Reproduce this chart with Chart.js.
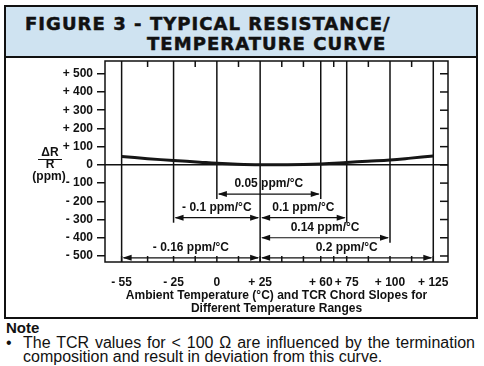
<!DOCTYPE html>
<html>
<head>
<meta charset="utf-8">
<script src="https://cdn.jsdelivr.net/npm/chart.js@4/dist/chart.umd.min.js"></script>
<style>
  html, body { margin: 0; padding: 0; background: #fff; }
  #page { position: relative; width: 484px; height: 366px; overflow: hidden; font-family: 'Liberation Sans', Arial, sans-serif; color: #111; }
  #box { position: absolute; left: 4px; top: 5px; width: 474px; height: 314px; border: 2px solid #111; box-sizing: border-box; }
  #band { position: absolute; left: 6px; top: 7px; width: 470px; height: 49px; background: #cfe3f1; border-bottom: 2px solid #111; }
  .ttl { position: absolute; font-family: 'DejaVu Sans', sans-serif; font-weight: bold; font-size: 18px; line-height: 20px; letter-spacing: 1.05px; white-space: nowrap; -webkit-text-stroke: 0.5px #111; }
  #t1 { left: 25px; top: 14px; }
  #t2 { left: 147px; top: 34px; }
  #chart { position: absolute; left: 0; top: 0; }
  #noteHead { position: absolute; left: 6px; top: 320px; font-weight: bold; font-size: 15px; line-height: 15px; }
  .note { position: absolute; font-size: 16px; line-height: 14px; white-space: nowrap; }
  #bullet { left: 6px; top: 336px; }
  #l1 { left: 23px; top: 336px; width: 452px; text-align: justify; text-align-last: justify; white-space: normal; }
  #l2 { left: 23px; top: 350px; }
</style>
</head>
<body>
<div id="page">
  <div id="box"></div>
  <div id="band"></div>
  <div class="ttl" id="t1">FIGURE 3 - TYPICAL RESISTANCE/</div>
  <div class="ttl" id="t2">TEMPERATURE CURVE</div>
  <div id="noteHead">Note</div>
  <div class="note" id="bullet">•</div>
  <div class="note" id="l1">The TCR values for &lt; 100 Ω are influenced by the termination</div>
  <div class="note" id="l2">composition and result in deviation from this curve.</div>
  <canvas id="chart" width="484" height="366"></canvas>
</div>
<script>
// curve: resistance change (ppm) vs ambient temperature (°C)
const curveTemps = [-55, -40, -25, -10, 0, 12, 25, 40, 50, 60, 75, 87, 100, 112, 125];
const curveDeltaR = [46, 34, 24, 15, 9, 4, 1, 1, 2, 5, 13, 20, 27, 37, 49];

// axis ticks
const tempTicks = [-55, -25, 0, 25, 60, 75, 100, 125];
const minorTemps = [-40, -12.5, 12.5, 37.5, 50, 67.5, 87.5, 112.5];
const ppmTicks = [-500, -400, -300, -200, -100, 0, 100, 200, 300, 400, 500];

// TCR chord slopes
const chordFrom = [0, -25, 25, 25, -55, 25];
const chordTo = [60, 25, 75, 100, 25, 125];
const chordLevel = [-160, -290, -290, -400, -510, -510];
const chordLabels = ['0.05 ppm/°C', '- 0.1 ppm/°C', '0.1 ppm/°C', '0.14 ppm/°C', '- 0.16 ppm/°C', '0.2 ppm/°C'];

const xTitle = ['Ambient Temperature (°C) and TCR Chord Slopes for', 'Different Temperature Ranges'];

const ink = '#111';
const boldFont = {family: "'Liberation Sans', Arial, sans-serif", weight: 'bold', size: 12};

function signed(v) {
  if (v > 0) return '+ ' + v;
  if (v < 0) return '- ' + (-v);
  return '0';
}

function seg(ctx, x1, y1, x2, y2) {
  ctx.beginPath();
  ctx.moveTo(x1, y1);
  ctx.lineTo(x2, y2);
  ctx.stroke();
}

function head(ctx, x, y, dir) {
  // dir -1 points left, +1 points right
  ctx.beginPath();
  ctx.moveTo(x, y);
  ctx.lineTo(x - dir * 9, y - 3);
  ctx.lineTo(x - dir * 9, y + 3);
  ctx.closePath();
  ctx.fill();
}

const figurePlugin = {
  id: 'figure',
  beforeDatasetsDraw(chart) {
    const {ctx, chartArea: a, scales: {x, y}} = chart;
    ctx.save();
    ctx.strokeStyle = ink;
    ctx.fillStyle = ink;

    // temperature guide lines, down to the lowest chord that uses them
    ctx.lineWidth = 1.5;
    tempTicks.forEach(t => {
      const px = x.getPixelForValue(t);
      let low = null;
      chordFrom.forEach((f, i) => {
        if (f === t || chordTo[i] === t) low = low === null ? chordLevel[i] : Math.min(low, chordLevel[i]);
      });
      let bottom = low === null ? a.bottom : y.getPixelForValue(low) + 5;
      if (a.bottom - bottom < 10) bottom = a.bottom;
      seg(ctx, px, a.top, px, bottom);
    });

    // chord arrows with labels
    ctx.lineWidth = 1.2;
    ctx.font = "bold 12px 'Liberation Sans', Arial, sans-serif";
    ctx.textAlign = 'center';
    ctx.textBaseline = 'middle';
    chordFrom.forEach((f, i) => {
      const x1 = x.getPixelForValue(f);
      const x2 = x.getPixelForValue(chordTo[i]);
      const py = y.getPixelForValue(chordLevel[i]);
      seg(ctx, x1 + 2, py, x2 - 2, py);
      head(ctx, x1 + 1, py, -1);
      head(ctx, x2 - 1, py, 1);
      ctx.fillText(chordLabels[i], (x1 + x2) / 2, py - 10);
    });
    ctx.restore();
  },
  afterDatasetsDraw(chart) {
    const {ctx, chartArea: a, scales: {x, y}} = chart;
    ctx.save();
    ctx.strokeStyle = ink;
    ctx.lineWidth = 1.5;
    ctx.strokeRect(a.left, a.top, a.right - a.left, a.bottom - a.top);

    // inner ticks: right edge, top and bottom
    ppmTicks.forEach(v => {
      const py = y.getPixelForValue(v);
      seg(ctx, a.right - 8, py, a.right, py);
    });
    minorTemps.forEach(t => {
      const px = x.getPixelForValue(t);
      seg(ctx, px, a.top, px, a.top + 6);
    });
    tempTicks.concat(minorTemps).forEach(t => {
      const px = x.getPixelForValue(t);
      seg(ctx, px, a.bottom - 6, px, a.bottom);
    });

    // y axis title as a fraction: ΔR / R (ppm)
    ctx.fillStyle = ink;
    ctx.font = "bold 12px 'Liberation Sans', Arial, sans-serif";
    ctx.textAlign = 'center';
    ctx.textBaseline = 'middle';
    ctx.fillText('ΔR', 50, 153);
    ctx.lineWidth = 1;
    seg(ctx, 38, 159.5, 62, 159.5);
    ctx.fillText('R', 50, 165);
    ctx.fillText('(ppm)', 49, 177);
    ctx.restore();
  }
};

new Chart(document.getElementById('chart'), {
  type: 'line',
  data: {
    datasets: [{
      data: curveTemps.map((t, i) => ({x: t, y: curveDeltaR[i]})),
      borderColor: '#161616',
      borderWidth: 3,
      pointRadius: 0,
      tension: 0.4,
      fill: false
    }]
  },
  options: {
    responsive: false,
    animation: false,
    layout: {padding: {top: 61, right: 36, bottom: 51, left: 0}},
    plugins: {legend: {display: false}, tooltip: {enabled: false}},
    scales: {
      x: {
        type: 'linear',
        min: -64.6,
        max: 133.5,
        afterBuildTicks: s => { s.ticks = tempTicks.map(v => ({value: v})); },
        afterFit: s => { s.height = 53; },
        grid: {display: false},
        border: {display: false},
        ticks: {autoSkip: false, maxRotation: 0, padding: 5, color: ink, font: boldFont, callback: signed},
        title: {display: true, text: xTitle, color: ink, font: {...boldFont, lineHeight: 1.1}, padding: 0}
      },
      y: {
        min: -533,
        max: 570,
        afterBuildTicks: s => { s.ticks = ppmTicks.map(v => ({value: v})); },
        afterFit: s => { s.width = 105; },
        grid: {
          color: c => (c.tick && c.tick.value === 0 ? ink : 'rgba(0,0,0,0)'),
          lineWidth: 1.5,
          tickColor: ink,
          tickLength: 8,
          tickWidth: 1.5
        },
        border: {display: false},
        ticks: {padding: 4, color: ink, font: boldFont, callback: signed}
      }
    }
  },
  plugins: [figurePlugin]
});
</script>
</body>
</html>
